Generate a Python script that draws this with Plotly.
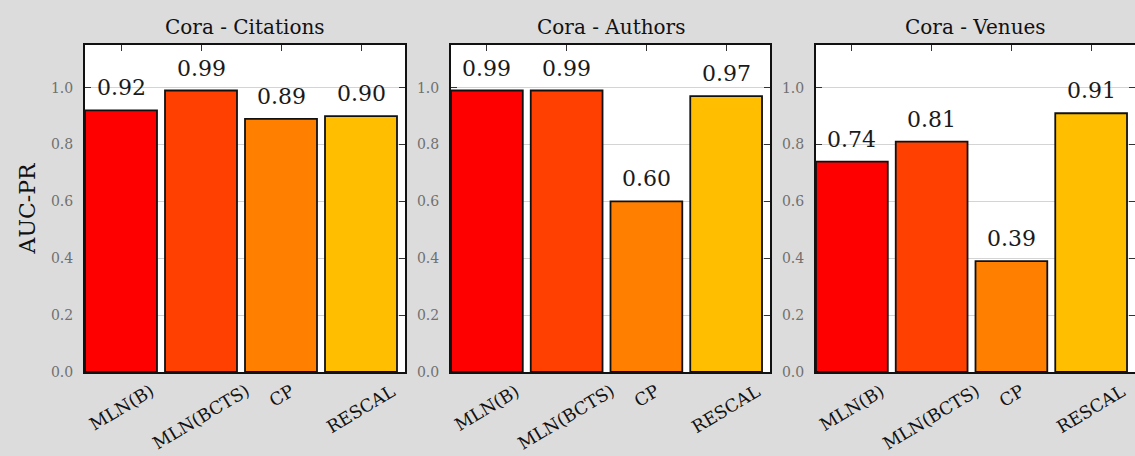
import plotly.graph_objects as go

methods = ["MLN(B)", "MLN(BCTS)", "CP", "RESCAL"]
panel_titles = ["Cora - Citations", "Cora - Authors", "Cora - Venues"]
citations = [0.92, 0.99, 0.89, 0.90]
authors = [0.99, 0.99, 0.60, 0.97]
venues = [0.74, 0.81, 0.39, 0.91]
bar_colors = ["#ff0000", "#ff4000", "#ff8000", "#ffbf00"]
y_ticks = [0.0, 0.2, 0.4, 0.6, 0.8, 1.0]
y_label = "AUC-PR"

panels = [citations, authors, venues]

W, H = 1135, 456
px_x = [(85, 405), (451, 770), (816, 1135)]
px_top, px_bottom = 45, 372
ydom = [(H - px_bottom) / H, (H - px_top) / H]

SERIF = "DejaVu Serif"
fig = go.Figure()
annotations = []

for k, vals in enumerate(panels):
    sfx = "" if k == 0 else str(k + 1)
    xa, ya = "x" + sfx, "y" + sfx
    fig.add_trace(go.Bar(
        x=methods, y=vals, xaxis=xa, yaxis=ya, width=0.9,
        marker=dict(color=bar_colors, line=dict(color="#111111", width=1.8)),
        showlegend=False, hoverinfo="x+y",
    ))
    xd = [px_x[k][0] / W, px_x[k][1] / W]
    fig.update_layout(**{
        "xaxis" + sfx: dict(
            domain=xd, anchor=ya, range=[-0.45, 3.55], type="category",
            showline=True, linecolor="#111111", linewidth=2, mirror="allticks",
            ticks="inside", ticklen=6, tickcolor="#333333", showticklabels=False,
            showgrid=False, layer="below traces", fixedrange=True,
        ),
        "yaxis" + sfx: dict(
            domain=ydom, anchor=xa, range=[0, 1.15], tickvals=y_ticks,
            ticktext=[f"{t:.1f}" for t in y_ticks],
            showline=True, linecolor="#111111", linewidth=2, mirror="allticks",
            ticks="inside", ticklen=6, tickcolor="#333333",
            tickfont=dict(family=SERIF, size=14, color="#707070"),
            ticklabelstandoff=7,
            showgrid=True, gridcolor="#d4d4d4", gridwidth=1,
            zeroline=False, layer="below traces", fixedrange=True,
            automargin=False,
        ),
    })
    # panel title
    annotations.append(dict(
        text=panel_titles[k], xref=xa + " domain", yref=ya + " domain",
        x=0.5, y=1.0, xanchor="center", yanchor="bottom", yshift=4,
        showarrow=False, font=dict(family=SERIF, size=20, color="#111111"),
    ))
    for m, v in zip(methods, vals):
        # value label above bar
        annotations.append(dict(
            text=f"{v:.2f}", xref=xa, yref=ya, x=m, y=v,
            xanchor="center", yanchor="bottom", yshift=8, showarrow=False,
            font=dict(family=SERIF, size=22, color="#1a1a1a"),
        ))
        # rotated category label
        annotations.append(dict(
            text=m, xref=xa, yref=ya + " domain", x=m, y=0,
            xanchor="center", yanchor="top", yshift=-6, textangle=-31,
            showarrow=False, font=dict(family=SERIF, size=17.5, color="#111111"),
        ))

annotations.append(dict(
    text=y_label, xref="paper", yref="paper", x=27 / W,
    y=(H - (px_top + px_bottom) / 2) / H, xanchor="center", yanchor="middle",
    textangle=-90, showarrow=False,
    font=dict(family=SERIF, size=22, color="#111111"),
))

fig.update_layout(
    width=W, height=H, margin=dict(l=0, r=0, t=0, b=0, autoexpand=False),
    paper_bgcolor="#dcdcdc", plot_bgcolor="#ffffff",
    annotations=annotations, bargap=0.1,
)

fig.write_html(
    "out.html",
    config={"displayModeBar": False},
    post_script="document.body.style.margin='0';document.body.style.overflow='hidden';",
)
